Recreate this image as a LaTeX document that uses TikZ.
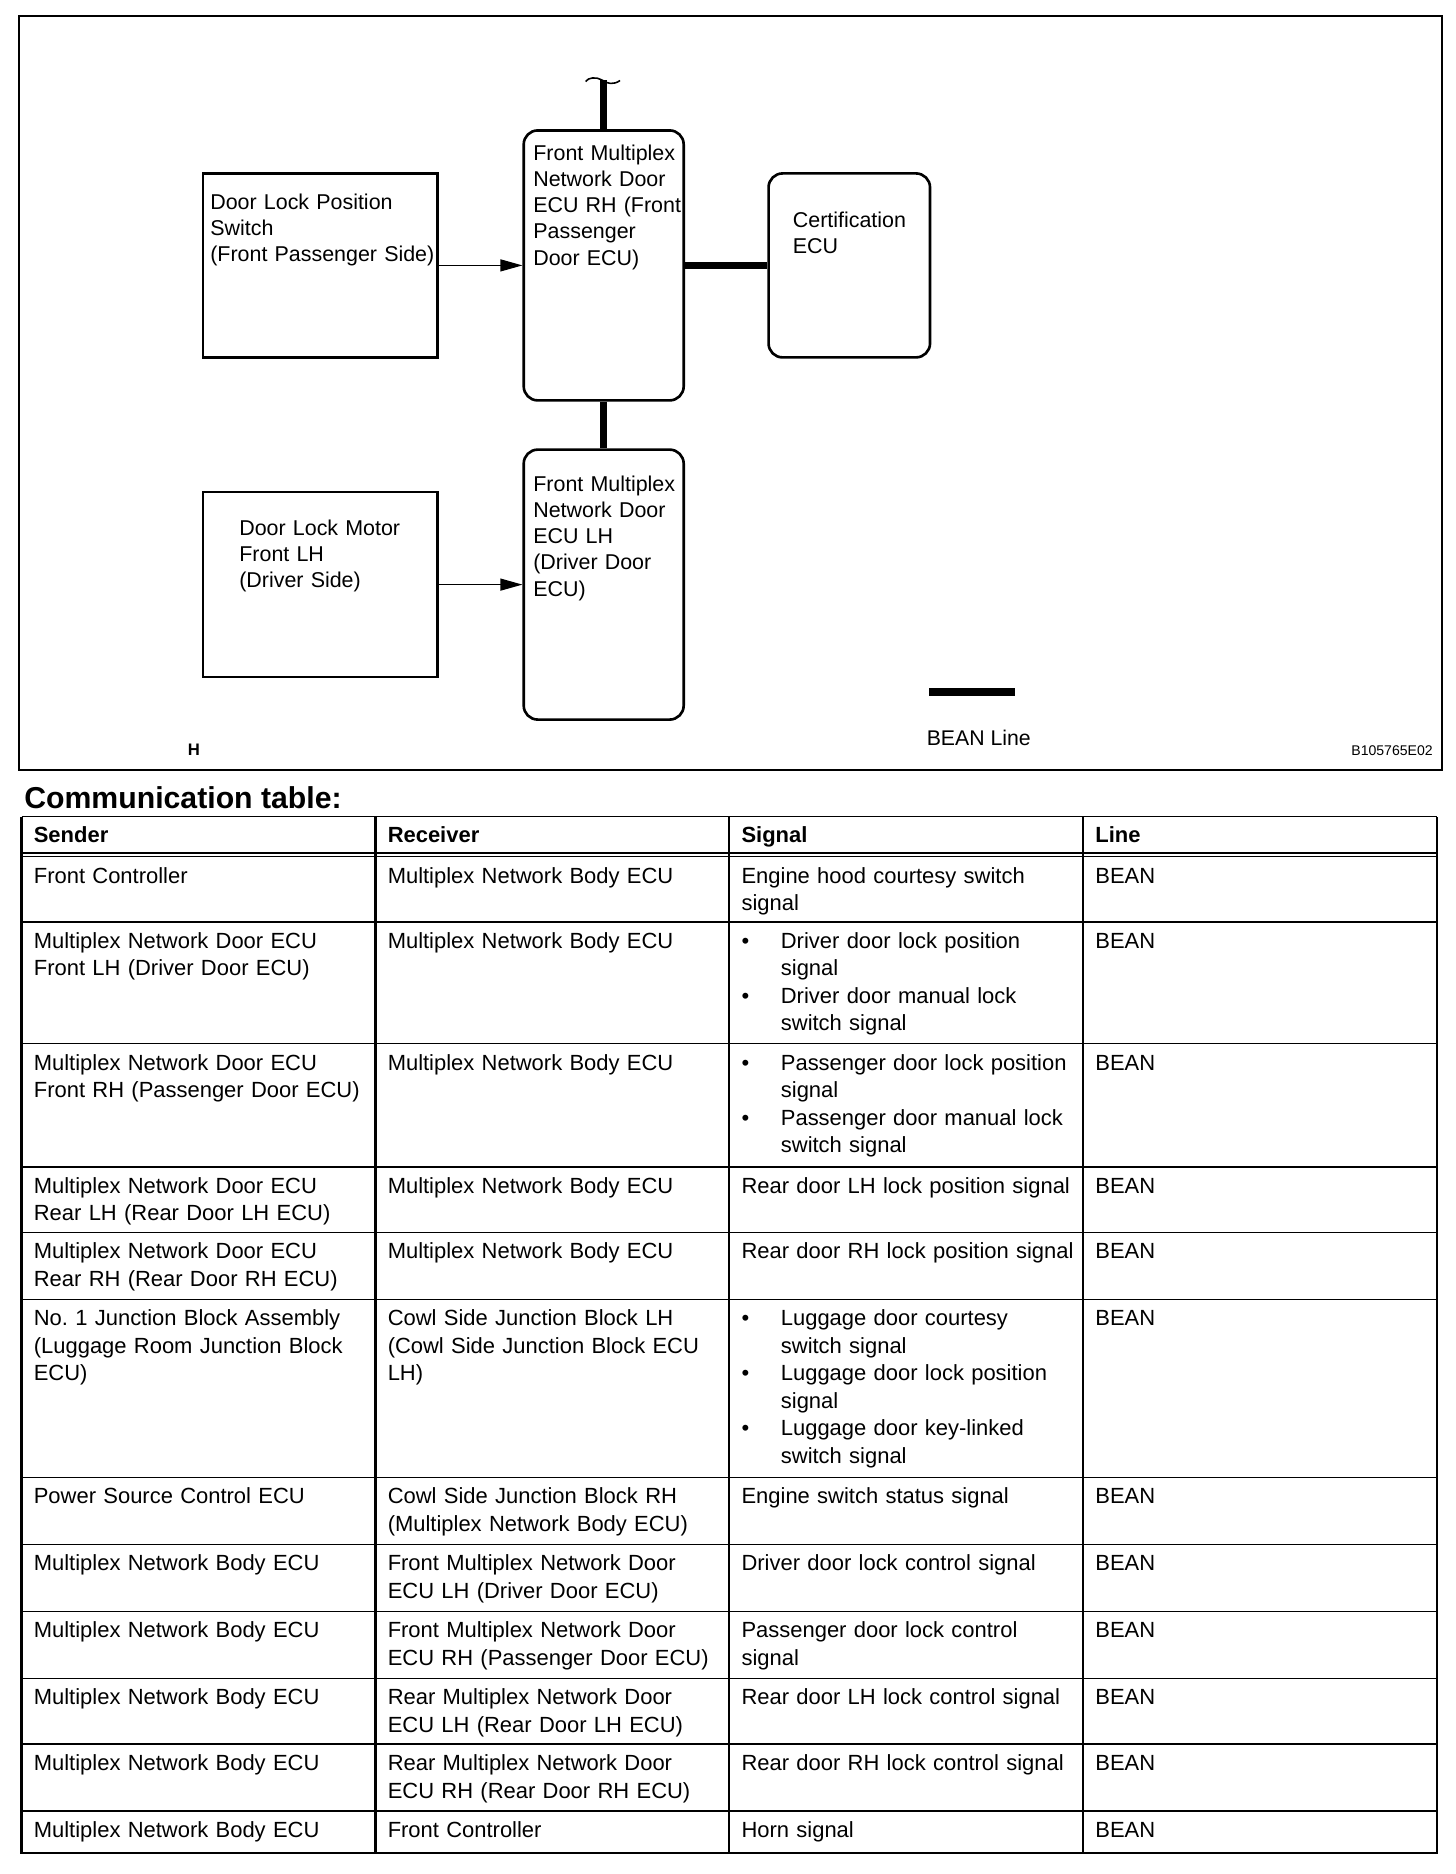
\documentclass[tikz,border=0pt]{standalone}
\usepackage{fontspec}
\setmainfont{Liberation Sans}
\usetikzlibrary{arrows.meta}
\frenchspacing

\newcommand{\sigbul}{\makebox[22.4pt][l]{\textbullet}}
\newcommand{\sigind}{\hspace*{22.4pt}}

\begin{document}
\begin{tikzpicture}[x=0.02cm,y=-0.02cm]
\tikzstyle{block}=[draw,line width=1.5pt,inner sep=0pt]
\tikzstyle{ecu}=[block,rounded corners=0.28cm]
\tikzstyle{txt}=[anchor=base west,inner sep=0pt,text width=6cm,align=left,font=\fontsize{12.2}{14.96}\selectfont]
\tikzstyle{bean}=[draw,line width=4pt]
\tikzstyle{sig}=[draw,line width=0.7pt,-{Triangle[length=0.44cm,width=0.24cm]}]
\tikzstyle{cell}=[anchor=base west,inner sep=0pt,text width=8cm,align=left,font=\fontsize{12.5}{15.65}\selectfont]
\tikzstyle{head}=[cell,font=\fontsize{12.5}{15.65}\selectfont\bfseries]
\tikzstyle{rule}=[line width=0.9pt]
\tikzstyle{frame}=[line width=1.4pt]

\useasboundingbox (0,0) rectangle (1456,1874);

% diagram
\draw[line width=1.5pt] (19,16) rectangle (1442,770);

\node[block,minimum width=4.69cm,minimum height=3.68cm] (sw) at (320.2,265.4) {};
\node[block,minimum width=4.69cm,minimum height=3.7cm] (mot) at (320.2,584.6) {};
\node[ecu,minimum width=3.2cm,minimum height=5.4cm] (rh) at (603.7,265.4) {};
\node[ecu,minimum width=3.2cm,minimum height=5.4cm] (lh) at (603.7,584.6) {};
\node[ecu,minimum width=3.23cm,minimum height=3.68cm] (cert) at (849.3,265.4) {};

\node[txt] (swt) at (210,209) {Door Lock Position\\Switch\\(Front Passenger Side)};
\node[txt] (rht) at (533,160) {Front Multiplex\\Network Door\\ECU RH (Front\\Passenger\\Door ECU)};
\node[txt] (certt) at (792.5,227.5) {Certification\\ECU};
\node[txt] (lht) at (533,491) {Front Multiplex\\Network Door\\ECU LH\\(Driver Door\\ECU)};
\node[txt] (mott) at (239,535) {Door Lock Motor\\Front LH\\(Driver Side)};

\coordinate (top) at (603.7,80);
\path (rh) edge[bean] (cert);
\path (rh) edge[bean] (lh);
\path (rh) edge[bean] (top);
\path (sw) edge[sig] (rh);
\path (mot) edge[sig] (lh);
\draw[line width=0.9pt] (585.7,81.5) .. controls (588,77.5) and (596,76.5) .. (602,80) .. controls (607,84) and (614,85) .. (620,80.5);

% legend
\coordinate (lg1) at (929,692);
\coordinate (lg2) at (1015,692);
\path (lg1) edge[bean] (lg2);
\node[anchor=base west,inner sep=0pt,font=\fontsize{12.1}{14}\selectfont] (lgt) at (926.4,745) {BEAN Line};
\node[anchor=base west,inner sep=0pt,font=\fontsize{9.5}{11}\selectfont\bfseries] (hmark) at (187.5,755) {H};
\node[anchor=base east,inner sep=0pt,font=\fontsize{8}{10}\selectfont] (code) at (1433,755.5) {B105765E02};

% table
\node[anchor=base west,inner sep=0pt,font=\fontsize{17.2}{20}\selectfont\bfseries] (title) at (24,808) {Communication table:};

\draw[rule] (21.5,816.5) -- (1437,816.5);
\draw[frame] (21.5,816.5) -- (21.5,1852.9) -- (1437,1852.9) -- (1437,816.5);
\foreach \x in {375.4,729.2,1083} \draw[frame] (\x,816.5) -- (\x,1852.9);
\draw[line width=1.3pt] (21.5,852.7) -- (1437,852.7);
\draw[line width=0.75pt] (21.5,856.7) -- (1437,856.7);
\foreach \y in {921.7,1043.6,1166.7,1232.4,1299.4,1477.5,1544.4,1611.4,1678.4,1744.1,1811.0}
  \draw[rule] (21.5,\y) -- (1437,\y);

\node[head] (hs) at (33.5,842.3) {Sender};
\node[head] (hr) at (387.4,842.3) {Receiver};
\node[head] (hg) at (741.2,842.3) {Signal};
\node[head] (hl) at (1095,842.3) {Line};

\node[cell] (s1) at (33.5,883.1) {Front Controller};
\node[cell] (r1) at (387.4,883.1) {Multiplex Network Body ECU};
\node[cell] (g1) at (741.2,883.1) {Engine hood courtesy switch\\signal};
\node[cell] (l1) at (1095,883.1) {BEAN};

\node[cell] (s2) at (33.5,948.1) {Multiplex Network Door ECU\\Front LH (Driver Door ECU)};
\node[cell] (r2) at (387.4,948.1) {Multiplex Network Body ECU};
\node[cell] (g2) at (741.2,948.1) {\sigbul Driver door lock position\\\sigind signal\\\sigbul Driver door manual lock\\\sigind switch signal};
\node[cell] (l2) at (1095,948.1) {BEAN};

\node[cell] (s3) at (33.5,1070.0) {Multiplex Network Door ECU\\Front RH (Passenger Door ECU)};
\node[cell] (r3) at (387.4,1070.0) {Multiplex Network Body ECU};
\node[cell] (g3) at (741.2,1070.0) {\sigbul Passenger door lock position\\\sigind signal\\\sigbul Passenger door manual lock\\\sigind switch signal};
\node[cell] (l3) at (1095,1070.0) {BEAN};

\node[cell] (s4) at (33.5,1193.1) {Multiplex Network Door ECU\\Rear LH (Rear Door LH ECU)};
\node[cell] (r4) at (387.4,1193.1) {Multiplex Network Body ECU};
\node[cell] (g4) at (741.2,1193.1) {Rear door LH lock position signal};
\node[cell] (l4) at (1095,1193.1) {BEAN};

\node[cell] (s5) at (33.5,1258.8) {Multiplex Network Door ECU\\Rear RH (Rear Door RH ECU)};
\node[cell] (r5) at (387.4,1258.8) {Multiplex Network Body ECU};
\node[cell] (g5) at (741.2,1258.8) {Rear door RH lock position signal};
\node[cell] (l5) at (1095,1258.8) {BEAN};

\node[cell] (s6) at (33.5,1325.8) {No. 1 Junction Block Assembly\\(Luggage Room Junction Block\\ECU)};
\node[cell] (r6) at (387.4,1325.8) {Cowl Side Junction Block LH\\(Cowl Side Junction Block ECU\\LH)};
\node[cell] (g6) at (741.2,1325.8) {\sigbul Luggage door courtesy\\\sigind switch signal\\\sigbul Luggage door lock position\\\sigind signal\\\sigbul Luggage door key-linked\\\sigind switch signal};
\node[cell] (l6) at (1095,1325.8) {BEAN};

\node[cell] (s7) at (33.5,1503.9) {Power Source Control ECU};
\node[cell] (r7) at (387.4,1503.9) {Cowl Side Junction Block RH\\(Multiplex Network Body ECU)};
\node[cell] (g7) at (741.2,1503.9) {Engine switch status signal};
\node[cell] (l7) at (1095,1503.9) {BEAN};

\node[cell] (s8) at (33.5,1570.8) {Multiplex Network Body ECU};
\node[cell] (r8) at (387.4,1570.8) {Front Multiplex Network Door\\ECU LH (Driver Door ECU)};
\node[cell] (g8) at (741.2,1570.8) {Driver door lock control signal};
\node[cell] (l8) at (1095,1570.8) {BEAN};

\node[cell] (s9) at (33.5,1637.8) {Multiplex Network Body ECU};
\node[cell] (r9) at (387.4,1637.8) {Front Multiplex Network Door\\ECU RH (Passenger Door ECU)};
\node[cell] (g9) at (741.2,1637.8) {Passenger door lock control\\signal};
\node[cell] (l9) at (1095,1637.8) {BEAN};

\node[cell] (s10) at (33.5,1704.8) {Multiplex Network Body ECU};
\node[cell] (r10) at (387.4,1704.8) {Rear Multiplex Network Door\\ECU LH (Rear Door LH ECU)};
\node[cell] (g10) at (741.2,1704.8) {Rear door LH lock control signal};
\node[cell] (l10) at (1095,1704.8) {BEAN};

\node[cell] (s11) at (33.5,1770.5) {Multiplex Network Body ECU};
\node[cell] (r11) at (387.4,1770.5) {Rear Multiplex Network Door\\ECU RH (Rear Door RH ECU)};
\node[cell] (g11) at (741.2,1770.5) {Rear door RH lock control signal};
\node[cell] (l11) at (1095,1770.5) {BEAN};

\node[cell] (s12) at (33.5,1837.4) {Multiplex Network Body ECU};
\node[cell] (r12) at (387.4,1837.4) {Front Controller};
\node[cell] (g12) at (741.2,1837.4) {Horn signal};
\node[cell] (l12) at (1095,1837.4) {BEAN};

\end{tikzpicture}
\end{document}
